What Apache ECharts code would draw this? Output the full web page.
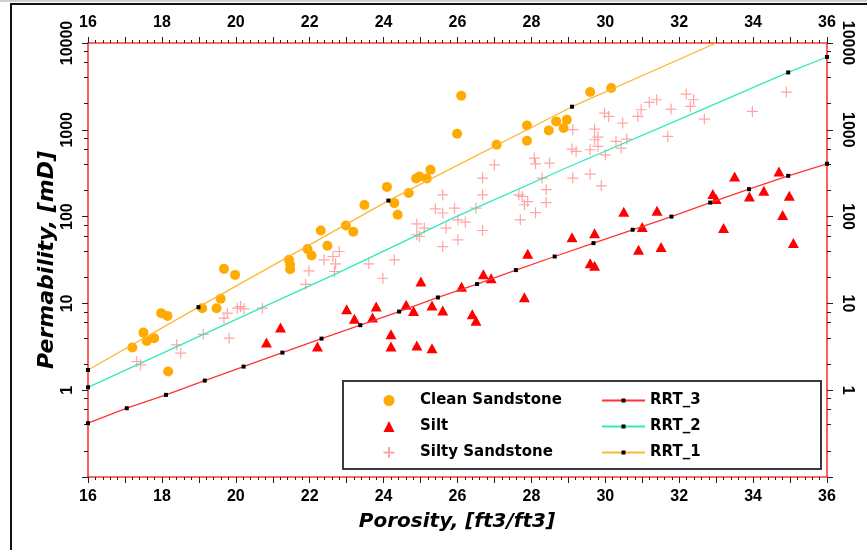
<!DOCTYPE html>
<html><head><meta charset="utf-8">
<script src="https://cdn.jsdelivr.net/npm/echarts@6/dist/echarts.min.js"></script>
<style>html,body{margin:0;padding:0;background:#fff}#c{width:867px;height:550px}</style>
</head><body><div id="c"></div>
<script>
// ---- data ----
const cleanX = [17.20,17.50,17.59,17.79,17.98,18.15,18.17,19.09,19.48,19.59,19.68,19.98,21.44,21.47,21.47,21.94,22.05,22.30,22.48,22.98,23.18,23.48,24.09,24.29,24.38,24.68,24.88,24.97,25.17,25.27,25.99,26.10,27.06,27.88,27.88,28.47,28.67,28.87,28.96,29.59,30.16];
const cleanY = [3.10,4.61,3.70,3.98,7.72,7.18,1.64,8.81,8.81,11.3,25.0,21.3,31.8,27.8,24.8,42.2,35.6,69.2,46.1,78.9,66.8,136,220,143,105,187,275,290,275,346,900,2470,673,1122,748,984,1250,1047,1306,2723,3030];

const siltX = [20.83,21.21,22.21,23.00,23.21,23.80,23.70,24.20,24.20,24.61,24.81,24.90,25.01,25.31,25.31,25.60,26.11,26.40,26.50,26.70,26.91,27.81,27.90,29.10,29.71,29.59,29.71,30.50,30.90,31.00,31.40,31.51,32.91,33.00,33.20,33.50,33.90,34.29,34.70,34.80,34.98,35.09];
const siltY = [3.54,5.27,3.18,8.59,6.64,9.20,6.87,4.42,3.18,9.62,8.20,3.27,17.9,9.45,3.05,8.27,15.6,7.52,6.30,21.7,19.5,11.8,37.3,58.0,64.5,29.1,27.1,114,41.4,75.7,117,44.5,182,159,73.7,290,171,198,331,104,174,49.5];

const siltySandX = [17.32,17.42,18.40,18.51,19.12,19.82,19.68,19.77,20.04,20.13,20.22,20.72,21.89,21.98,22.39,22.63,22.70,22.80,22.67,23.60,23.98,24.29,24.90,24.90,25.10,24.97,25.60,25.40,25.60,25.69,25.60,25.92,26.01,26.21,26.01,26.50,26.68,26.68,26.68,27.00,27.66,27.75,27.81,27.90,27.70,28.08,28.11,28.49,28.29,28.40,28.40,28.11,29.12,29.10,29.21,29.12,29.59,29.89,29.59,29.71,29.71,29.80,29.80,30.00,29.98,30.09,30.29,30.43,30.47,30.58,30.88,30.97,31.19,31.39,31.69,31.78,32.19,32.39,32.30,32.68,33.98,34.90];
const siltySandY = [2.14,1.96,3.33,2.67,4.40,3.98,6.76,7.72,8.81,9.20,8.65,8.81,16.6,23.7,31.8,34.7,28.6,39.6,23.3,28.6,19.5,31.8,82.6,61.7,73.7,59.0,178,123,110,73.7,45.2,125,91.8,86.5,54.0,125,278,178,69.2,395,178,171,137,149,91.8,472,406,414,278,204,145,111,1002,600,563,278,309,226,589,1020,768,825,643,515,1560,1425,734,616,1196,782,1425,1703,2066,2218,838,1734,2583,2218,1858,1330,1627,2723];

const rrt3X = [16,17.05,18.11,19.16,20.21,21.26,22.32,23.37,24.42,25.47,26.53,27.58,28.63,29.68,30.74,31.79,32.84,33.89,34.95,36];
const rrt3Y = [0.417,0.62,0.883,1.29,1.87,2.71,3.93,5.61,8.05,11.7,16.7,24.2,34.7,49.5,70.5,100,145,207,295,406];
const rrt3MarkedX = rrt3X;

const rrt2X = [16,19.14,22.75,25.92,29.03,31.96,34.95,36];
const rrt2Y = [1.08,4.43,22.3,98,378,1294,4580,6900];
const rrt2MarkedX = [16,34.95,36];

const rrt1X = [16,18.99,24.13,29.10,33.0];
const rrt1Y = [1.71,9.05,153,1845,10000];
const rrt1MarkedX = [16,18.99,24.13,29.10];

// minor tick positions on the permeability axis
const yMinorTicks = [0.2,0.4,0.6,0.8, 2,4,6,8, 20,40,60,80, 200,400,600,800, 2000,4000,6000,8000];

const seriesNames = ['Clean Sandstone','Silt','Silty Sandstone','RRT_3','RRT_2','RRT_1'];
const xTitle = 'Porosity, [ft3/ft3]';
const yTitle = 'Permability, [mD]';

// ---- build ----
const pts = (xs, ys) => xs.map((x, i) => [x, ys[i]]);
const linePts = (xs, ys, marked) => xs.map((x, i) => marked.indexOf(x) >= 0 ? {value:[x, ys[i]]} : {value:[x, ys[i]], symbol:'none'});

const tickFont = {fontFamily:'Liberation Sans, Arial', fontWeight:'bold', fontSize:16, color:'#000'};
const axisLineRed = {show:true, lineStyle:{color:'#FF3535', width:1.6}};
const tickStyle = {color:'#222', width:1};

function xAx(pos) {
  return {type:'value', min:16, max:36, interval:1, position:pos,
    axisLine:axisLineRed,
    axisTick:{show:true, length:6, lineStyle:tickStyle},
    minorTick:{show:true, splitNumber:5, length:3, lineStyle:tickStyle},
    splitLine:{show:false}, minorSplitLine:{show:false},
    axisLabel:Object.assign({margin:12, hideOverlap:false, formatter:v => (Math.round(v) % 2 === 0 ? String(v) : '')}, tickFont)};
}
function yAx(pos, rot) {
  return {type:'log', logBase:10, min:0.1, max:10000, position:pos,
    axisLine:axisLineRed,
    axisTick:{show:true, length:6, lineStyle:tickStyle},
    splitLine:{show:false},
    axisLabel:Object.assign({margin:12, rotate:rot, hideOverlap:false, formatter:v => (v >= 1 ? String(Math.round(v)) : '')}, tickFont)};
}
function yMinorAx(pos) {
  return {type:'log', logBase:10, min:0.1, max:10000, position:pos, offset:0,
    axisLine:{show:false},
    axisTick:{show:true, length:4, lineStyle:tickStyle, customValues:yMinorTicks},
    axisLabel:{show:false},
    splitLine:{show:false}};
}

const crossPath = 'path://M5,0L5,10M0,5L10,5';
const legendText = {fontFamily:'DejaVu Sans', fontWeight:'bold', fontSize:15, color:'#000'};

const option = {
  backgroundColor:'#fff',
  animation:false,
  grid:{left:88, right:40, top:43, bottom:73, containLabel:false},
  xAxis:[xAx('bottom'), xAx('top')],
  yAxis:[yAx('left', 90), yAx('right', -90), yMinorAx('left'), yMinorAx('right')],
  legend:[
    {data:seriesNames.slice(0,3), orient:'vertical', left:382.5, top:393, padding:0, itemWidth:11, itemHeight:11, itemGap:11,
     textStyle:Object.assign({padding:[0,0,0,20.5]}, legendText), selectedMode:false},
    {data:seriesNames.slice(3), orient:'vertical', left:601, top:393, padding:0, itemWidth:43, itemHeight:5, itemGap:11, textStyle:legendText, selectedMode:false}
  ],
  graphic:[
    {type:'rect', shape:{x:0, y:0, width:867, height:2}, style:{fill:'#cfcfcf'}, z:0},
    {type:'line', shape:{x1:11, y1:3, x2:11, y2:550}, style:{stroke:'#111', lineWidth:2}, z:0},
    {type:'line', shape:{x1:10, y1:4, x2:867, y2:4}, style:{stroke:'#111', lineWidth:2}, z:0},
    {type:'rect', shape:{x:343, y:381, width:478, height:88}, style:{fill:'#fff', stroke:'#3a3a3a', lineWidth:2}, z:3},
    {type:'text', x:457, y:522, style:{text:xTitle, font:'italic bold 20px "DejaVu Sans"', fill:'#000', align:'center', verticalAlign:'middle', textAlign:'center', textVerticalAlign:'middle'}},
    {type:'text', x:47, y:260, rotation:Math.PI/2, style:{text:yTitle, font:'italic bold 22px "DejaVu Sans"', fill:'#000', align:'center', verticalAlign:'middle', textAlign:'center', textVerticalAlign:'middle'}}
  ],
  series:[
    {name:seriesNames[0], type:'scatter', data:pts(cleanX, cleanY), symbol:'circle', symbolSize:10, itemStyle:{color:'#FFAA00', opacity:1}, z:3},
    {name:seriesNames[1], type:'scatter', data:pts(siltX, siltY), symbol:'triangle', symbolSize:[11,10], itemStyle:{color:'#FF0000', opacity:1}, z:3},
    {name:seriesNames[2], type:'scatter', data:pts(siltySandX, siltySandY), symbol:crossPath, symbolSize:11, itemStyle:{color:'rgba(0,0,0,0)', borderColor:'#FFA4A4', borderWidth:1.2, opacity:1}, z:3},
    {name:seriesNames[3], type:'line', data:linePts(rrt3X, rrt3Y, rrt3MarkedX), symbol:'rect', symbolSize:4, showAllSymbol:true, itemStyle:{color:'#000'}, lineStyle:{color:'#FF3535', width:1.3}, z:4},
    {name:seriesNames[4], type:'line', data:linePts(rrt2X, rrt2Y, rrt2MarkedX), symbol:'rect', symbolSize:4, showAllSymbol:true, itemStyle:{color:'#000'}, lineStyle:{color:'#2EEBB8', width:1.3}, z:4},
    {name:seriesNames[5], type:'line', data:linePts(rrt1X, rrt1Y, rrt1MarkedX), symbol:'rect', symbolSize:4, showAllSymbol:true, itemStyle:{color:'#000'}, lineStyle:{color:'#FFB733', width:1.3}, z:4}
  ]
};
const chart = echarts.init(document.getElementById('c'), null, {renderer:'canvas'});
chart.setOption(option);
</script>
</body></html>
